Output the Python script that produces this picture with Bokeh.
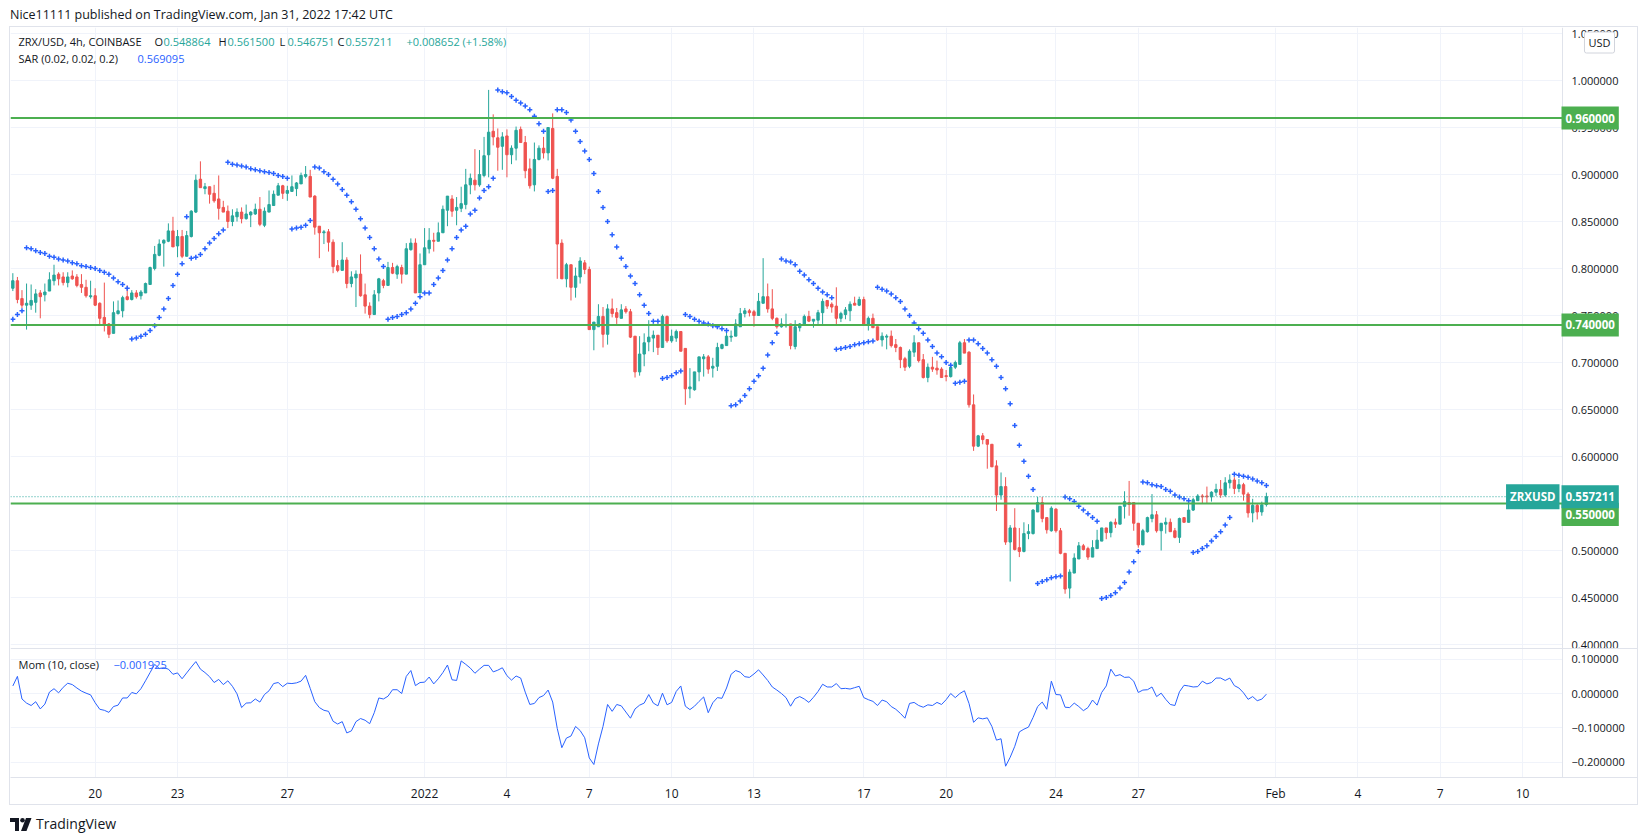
import numpy as np
import pandas as pd
from bokeh.plotting import figure
from bokeh.models import Range1d, FixedTicker, Span, Label, ColumnDataSource, Div, BoxAnnotation
from bokeh.layouts import column
from bokeh.embed import file_html
from bokeh.resources import INLINE

# ---------------- data (ZRX/USD 4h, COINBASE) ----------------
first_bar = "2021-12-17 00:00"

opens = [
    .779, .787, .768, .761, .761, .764, .774, .772, .776, .787,
    .794, .791, .785, .792, .791, .783, .780, .770, .771, .763,
    .748, .741, .731, .752, .755, .770, .767, .774, .771, .774,
    .783, .800, .814, .827, .829, .840, .824, .834, .813, .834,
    .860, .895, .885, .887, .880, .874, .865, .861, .850, .855,
    .860, .853, .857, .858, .863, .846, .860, .867, .878, .888,
    .880, .882, .885, .890, .898, .898, .877, .845, .838, .839,
    .828, .803, .798, .809, .784, .790, .794, .772, .760, .751,
    .774, .787, .782, .801, .794, .801, .794, .820, .827, .774,
    .804, .821, .830, .829, .838, .862, .874, .862, .864, .868,
    .889, .894, .889, .899, .921, .946, .939, .930, .941, .921,
    .928, .948, .934, .906, .889, .916, .928, .923, .949, .898,
    .827, .789, .804, .780, .791, .806, .799, .735, .738, .749,
    .730, .757, .753, .747, .757, .754, .728, .690, .709, .722,
    .726, .729, .716, .749, .723, .726, .733, .715, .672, .671,
    .690, .704, .706, .694, .696, .715, .718, .727, .728, .738,
    .752, .755, .754, .750, .763, .770, .757, .747, .738, .739,
    .741, .717, .737, .741, .749, .744, .745, .753, .766, .762,
    .760, .747, .751, .755, .763, .761, .767, .741, .747, .738,
    .724, .727, .728, .719, .716, .704, .696, .711, .721, .703,
    .684, .695, .694, .693, .686, .685, .695, .698, .721, .711,
    .655, .611, .622, .618, .613, .590, .559, .568, .509, .524,
    .503, .499, .518, .518, .541, .551, .535, .521, .544, .521,
    .497, .460, .476, .491, .505, .502, .493, .502, .510, .524,
    .519, .530, .528, .547, .551, .551, .529, .506, .520, .534,
    .538, .521, .528, .530, .521, .514, .535, .530, .543, .553,
    .558, .558, .557, .562, .565, .559, .572, .575, .566, .570,
    .560, .540, .548, .541, .548864,
]
highs = [
    .795, .791, .777, .784, .783, .778, .777, .784, .796, .804,
    .796, .796, .796, .798, .794, .794, .788, .787, .779, .764,
    .785, .742, .765, .766, .771, .782, .777, .777, .777, .785,
    .802, .824, .831, .831, .848, .855, .841, .841, .840, .862,
    .900, .914, .891, .887, .889, .899, .872, .867, .863, .864,
    .865, .868, .861, .869, .876, .865, .883, .883, .891, .889,
    .888, .899, .892, .902, .909, .905, .878, .845, .841, .842,
    .831, .809, .828, .812, .797, .798, .815, .784, .764, .777,
    .790, .789, .807, .806, .804, .804, .827, .832, .832, .816,
    .843, .843, .838, .849, .867, .877, .878, .876, .887, .906,
    .901, .927, .926, .940, .990, .964, .949, .945, .948, .931,
    .951, .951, .941, .917, .934, .931, .940, .950, .965, .906,
    .831, .806, .804, .801, .812, .809, .802, .743, .762, .759,
    .762, .768, .758, .762, .760, .757, .728, .728, .731, .745,
    .734, .729, .751, .750, .735, .735, .733, .715, .694, .690,
    .706, .709, .708, .705, .721, .720, .732, .734, .746, .758,
    .758, .757, .756, .774, .811, .784, .778, .748, .747, .752,
    .741, .745, .742, .751, .755, .746, .756, .768, .766, .764,
    .780, .754, .759, .765, .770, .770, .770, .749, .752, .738,
    .732, .730, .734, .725, .717, .706, .714, .729, .721, .709,
    .699, .706, .702, .695, .692, .697, .702, .723, .725, .712,
    .666, .623, .625, .618, .613, .596, .583, .578, .527, .545,
    .524, .530, .528, .544, .557, .557, .535, .547, .545, .524,
    .497, .480, .497, .509, .507, .504, .511, .522, .524, .524,
    .531, .534, .547, .563, .574, .551, .529, .523, .536, .560,
    .542, .529, .535, .534, .524, .535, .535, .555, .556, .560,
    .560, .568, .563, .571, .575, .578, .581, .578, .576, .572,
    .562, .555, .550, .552, .5615,
]
lows = [
    .776, .763, .758, .735, .756, .753, .747, .765, .776, .782,
    .782, .782, .780, .788, .780, .774, .769, .768, .760, .740,
    .733, .726, .731, .751, .748, .766, .766, .768, .767, .774,
    .783, .798, .813, .802, .828, .823, .812, .811, .813, .833,
    .859, .886, .879, .869, .870, .852, .860, .843, .845, .850,
    .848, .852, .844, .857, .845, .844, .860, .867, .878, .874,
    .872, .882, .877, .890, .896, .876, .836, .811, .826, .818,
    .795, .796, .798, .779, .780, .759, .770, .752, .747, .751,
    .765, .779, .782, .794, .789, .784, .794, .819, .774, .774,
    .804, .816, .818, .829, .838, .845, .855, .846, .860, .863,
    .879, .883, .887, .897, .897, .931, .904, .905, .897, .911,
    .915, .934, .896, .885, .882, .915, .917, .915, .895, .789,
    .789, .780, .766, .769, .784, .794, .735, .713, .738, .716,
    .719, .748, .741, .747, .752, .726, .684, .686, .696, .712,
    .711, .708, .716, .721, .721, .722, .712, .655, .662, .670,
    .680, .685, .688, .684, .691, .714, .718, .722, .728, .738,
    .748, .749, .738, .750, .763, .753, .745, .736, .737, .737,
    .714, .714, .733, .741, .743, .737, .741, .741, .757, .753,
    .740, .743, .746, .744, .761, .760, .741, .734, .737, .723,
    .717, .714, .716, .711, .694, .691, .694, .706, .700, .683,
    .679, .690, .687, .684, .680, .684, .693, .698, .710, .652,
    .606, .610, .613, .587, .589, .542, .554, .506, .467, .500,
    .493, .498, .512, .517, .541, .530, .518, .520, .519, .496,
    .454, .449, .476, .491, .500, .490, .493, .502, .510, .512,
    .514, .524, .528, .534, .537, .521, .503, .506, .519, .530,
    .519, .500, .518, .520, .513, .508, .530, .530, .542, .553,
    .550, .550, .552, .558, .556, .557, .566, .560, .562, .553,
    .535, .530, .533, .537, .546751,
]
closes = [
    .787, .767, .761, .763, .766, .773, .770, .775, .788, .793,
    .789, .785, .791, .789, .782, .780, .771, .771, .761, .747,
    .740, .730, .753, .755, .769, .767, .774, .770, .775, .784,
    .801, .815, .826, .830, .840, .823, .834, .813, .835, .861,
    .894, .886, .887, .879, .872, .864, .860, .850, .856, .860,
    .853, .858, .860, .863, .847, .861, .868, .879, .888, .880,
    .883, .887, .891, .899, .900, .876, .844, .838, .839, .828,
    .802, .798, .809, .784, .791, .794, .771, .760, .751, .772,
    .789, .782, .801, .795, .802, .794, .821, .827, .774, .804,
    .822, .830, .829, .838, .863, .877, .861, .865, .869, .889,
    .896, .889, .900, .920, .945, .940, .929, .940, .921, .928,
    .947, .934, .904, .888, .916, .928, .923, .950, .896, .826,
    .789, .804, .780, .792, .808, .799, .735, .743, .749, .730,
    .757, .752, .748, .756, .754, .727, .690, .709, .721, .727,
    .729, .716, .749, .723, .728, .733, .712, .672, .674, .690,
    .706, .706, .693, .696, .716, .719, .728, .728, .741, .752,
    .755, .753, .750, .765, .770, .757, .747, .738, .741, .740,
    .718, .738, .741, .749, .744, .746, .753, .765, .760, .759,
    .747, .752, .756, .762, .761, .767, .741, .747, .737, .724,
    .728, .728, .718, .716, .703, .695, .712, .721, .702, .684,
    .695, .693, .692, .684, .685, .695, .700, .721, .710, .655,
    .611, .622, .618, .613, .589, .559, .568, .509, .524, .501,
    .499, .518, .520, .543, .551, .534, .522, .545, .521, .497,
    .459, .477, .492, .505, .501, .493, .503, .511, .524, .519,
    .530, .528, .547, .552, .549, .529, .506, .521, .535, .538,
    .521, .529, .530, .520, .514, .534, .530, .543, .554, .558,
    .557, .557, .562, .565, .559136, .572, .575, .566, .570, .560,
    .540, .548, .541, .548559, .557211,
]
# Parabolic SAR (0.02, 0.02, 0.2) as plotted
sar = [
    .746, .751, .755, .822, .821, .819, .817, .816, .813, .812,
    .810, .809, .808, .806, .805, .803, .802, .801, .800, .798,
    .796, .794, .790, .786, .783, .779, .725, .726, .728, .730,
    .734, .739, .748, .757, .768, .782, .794, .805, .855, .811,
    .812, .815, .821, .827, .832, .837, .841, .913, .911, .910,
    .909, .908, .906, .905, .904, .903, .902, .901, .899, .898,
    .896, .842, .843, .844, .846, .851, .908, .907, .903, .900,
    .895, .890, .884, .878, .871, .863, .853, .843, .833, .821,
    .810, .802, .746, .748, .749, .751, .753, .757, .763, .770,
    .774, .774, .783, .790, .798, .809, .821, .833, .841, .845,
    .858, .862, .875, .883, .887, .896, .990, .988, .987, .983,
    .979, .976, .973, .969, .962, .954, .946, .882, .883, .969,
    .969, .966, .958, .946, .935, .925, .916, .901, .882, .865,
    .850, .836, .823, .811, .802, .792, .784, .772, .761, .752,
    .744, .744, .683, .684, .686, .689, .691, .751, .749, .746,
    .744, .742, .741, .739, .738, .736, .734, .654, .655, .659,
    .665, .672, .680, .686, .694, .708, .721, .731, .810, .808,
    .807, .804, .797, .793, .788, .784, .779, .775, .772, .769,
    .714, .715, .716, .717, .719, .720, .721, .722, .723, .780,
    .778, .776, .773, .769, .765, .757, .750, .742, .736, .731,
    .724, .717, .710, .706, .700, .697, .678, .679, .680, .724,
    .724, .720, .715, .710, .703, .696, .684, .672, .656, .633,
    .612, .595, .579, .565, .465, .467, .469, .471, .472, .473,
    .557, .555, .552, .547, .543, .539, .535, .531, .449, .450,
    .452, .455, .460, .466, .477, .488, .499, .573, .572, .570,
    .569, .568, .565, .563, .559, .557, .555, .553, .498, .499,
    .502, .505, .510, .515, .520, .527, .535, .581, .580, .579,
    .578, .576, .574, .572, .569095,
]
# Mom(10, close) values of the first 10 bars (their 10-bars-earlier closes are off-screen)
mom_head = [0.022, 0.050, -0.016, -0.028, -0.035, -0.024, -0.045, -0.031, 0.004, 0.014]

price_ticks = [0.40, 0.45, 0.50, 0.55, 0.60, 0.65, 0.70, 0.75, 0.80, 0.85, 0.90, 0.95, 1.00, 1.05]
price_tick_labels = ["0.400000", "0.450000", "0.500000", "0.550000", "0.600000", "0.650000", "0.700000",
                     "0.750000", "0.800000", "0.850000", "0.900000", "0.950000", "1.000000", "1.050000"]
mom_ticks = [0.1, 0.0, -0.1, -0.2]
mom_tick_labels = ["0.100000", "0.000000", "\u22120.100000", "\u22120.200000"]
date_ticks = ["2021-12-20", "2021-12-23", "2021-12-27", "2022-01-01", "2022-01-04", "2022-01-07",
              "2022-01-10", "2022-01-13", "2022-01-17", "2022-01-20", "2022-01-24", "2022-01-27",
              "2022-02-01", "2022-02-04", "2022-02-07", "2022-02-10"]
date_tick_labels = ["20", "23", "27", "2022", "4", "7", "10", "13", "17", "20", "24", "27",
                    "Feb", "4", "7", "10"]
levels = [0.96, 0.74, 0.55]
level_labels = ["0.960000", "0.740000", "0.550000"]
symbol = "ZRXUSD"
title_text = "ZRX/USD, 4h, COINBASE"
sar_title = "SAR (0.02, 0.02, 0.2)"
mom_title = "Mom (10, close)"
published = "Nice11111 published on TradingView.com, Jan 31, 2022 17:42 UTC"

# ---------------- styles ----------------
UP, DOWN = "#26a69a", "#ef5350"
SAR_C, MOM_C = "#2962ff", "#2962ff"
LEVEL_C = "#4caf50"
GRID_C, BORDER_C = "#f0f3fa", "#e0e3eb"
TXT = "#131722"
FONT = "Open Sans"

# ---------------- geometry (page pixels) ----------------
FRAME_L, FRAME_R, FRAME_T, FRAME_B = 10, 1637, 27, 777
AXIS_X = 1562          # left edge of the price scale
PANE_SPLIT = 648       # border between price pane and momentum pane
PX_PER_BAR = 4.575
X_START = -18.51
PX_PER_PRICE = 940.0
PRICE_TOP = 1.056383
PX_PER_MOM = 343.0
MOM_ZERO_Y = 693


def px_x(px):
    return X_START + (px - FRAME_L) / PX_PER_BAR


def px_p(py):
    return PRICE_TOP - (py - FRAME_T) / PX_PER_PRICE


X_END = px_x(FRAME_R)
X_AXIS = px_x(AXIS_X)
P0, P1 = px_p(FRAME_B), PRICE_TOP
M0, M1 = (MOM_ZERO_Y - FRAME_B) / PX_PER_MOM, (MOM_ZERO_Y - FRAME_T) / PX_PER_MOM


def mom_to_price_axis(m):
    return P0 + (m - M0) * (P1 - P0) / (M1 - M0)


# ---------------- derived ----------------
bar = pd.Timedelta(hours=4)
origin = pd.Timestamp("2021-12-20")
times = pd.date_range(first_bar, periods=len(closes), freq="4h")
xk = ((times - origin) / bar).to_numpy(dtype=float)
tick_x = [float(v) for v in ((pd.to_datetime(date_ticks) - origin) / bar).to_numpy(dtype=float)]

o, h, l, c = (np.array(a, dtype=float) for a in (opens, highs, lows, closes))
colors = np.where(c >= o, UP, DOWN)
src = ColumnDataSource(dict(x=xk, high=h, low=l, top=np.maximum(o, c), bottom=np.minimum(o, c),
                            color=colors, sar=np.array(sar)))
mom = np.concatenate([np.array(mom_head), c[10:] - c[:-10]])


def fmt(v):
    return f"{v:.6f}".replace("-", "\u2212")


# ---------------- figure ----------------
p = figure(frame_width=FRAME_R - FRAME_L, frame_height=FRAME_B - FRAME_T,
           x_range=Range1d(X_START, X_END), y_range=Range1d(P0, P1),
           extra_y_ranges={"mom": Range1d(M0, M1)},
           output_backend="svg", toolbar_location=None,
           min_border_left=0, min_border_right=0, min_border_top=0, min_border_bottom=26,
           y_axis_location="right", x_axis_location="below")
p.outline_line_color = None
p.background_fill_color = "white"
p.border_fill_color = "white"

axis_ticks = price_ticks + [mom_to_price_axis(m) for m in mom_ticks]
axis_labels = price_tick_labels + mom_tick_labels
ya = p.yaxis[0]
ya.ticker = FixedTicker(ticks=axis_ticks)
ya.major_label_overrides = dict(zip(axis_ticks, axis_labels))
ya.major_tick_line_color = None
ya.minor_tick_line_color = None
ya.major_tick_out = 0
ya.major_tick_in = 0
ya.axis_line_color = None
ya.major_label_standoff = -(FRAME_R - AXIS_X - 9)
ya.major_label_text_font = FONT
ya.major_label_text_font_size = "11px"
ya.major_label_text_color = TXT
p.ygrid.ticker = FixedTicker(ticks=axis_ticks)
p.ygrid.grid_line_color = GRID_C

xa = p.xaxis[0]
xa.ticker = FixedTicker(ticks=tick_x)
xa.major_label_overrides = dict(zip(tick_x, date_tick_labels))
xa.major_tick_line_color = None
xa.minor_tick_line_color = None
xa.major_tick_out = 0
xa.axis_line_color = BORDER_C
xa.major_label_standoff = 7
xa.major_label_text_font = FONT
xa.major_label_text_font_size = "12px"
xa.major_label_text_color = TXT
p.xgrid.ticker = FixedTicker(ticks=tick_x)
p.xgrid.grid_line_color = GRID_C

# blank the price-scale strip (grid lines stop at the scale)
p.add_layout(BoxAnnotation(left=X_AXIS, fill_color="white", fill_alpha=1.0, line_color=None,
                           level="underlay"))
p.add_layout(Span(location=X_AXIS, dimension="height", line_color=BORDER_C, line_width=1))
p.add_layout(Span(location=px_p(PANE_SPLIT), dimension="width", line_color=BORDER_C, line_width=1))

# candles
p.segment(x0="x", y0="low", x1="x", y1="high", line_color="color", line_width=1, source=src)
p.vbar(x="x", width=0.52, top="top", bottom="bottom", fill_color="color", line_color="color",
       line_width=1, source=src)
# SAR
p.scatter(x="x", y="sar", marker="cross", size=5, line_width=1.5, line_color=SAR_C, source=src)
# horizontal levels and last-price line
p.segment(x0=[X_START] * len(levels), y0=levels, x1=[X_AXIS] * len(levels), y1=levels,
          line_color=LEVEL_C, line_width=2)
p.segment(x0=[X_START], y0=[closes[-1]], x1=[px_x(1507)], y1=[closes[-1]], line_color=UP,
          line_width=1, line_dash="1 2")
# momentum
p.line(xk, mom, line_color=MOM_C, line_width=1, y_range_name="mom")


def tag(x, y, text, bg, color="white", align="left", bold=True, border=None, pad=(4, 7),
        size="11.5px"):
    p.add_layout(Label(x=x, y=y, text=text, text_align=align, text_baseline="middle",
                       text_font=FONT, text_font_size=size, text_color=color,
                       text_font_style="bold" if bold else "normal",
                       background_fill_color=bg, padding=pad,
                       border_line_color=border, border_radius=2 if border else 0))


TAG_X = px_x(AXIS_X - 1)
tag(TAG_X, levels[0], level_labels[0], LEVEL_C)
tag(TAG_X, levels[1], level_labels[1], LEVEL_C)
tag(TAG_X, px_p(514), level_labels[2], LEVEL_C)
tag(TAG_X, closes[-1], fmt(closes[-1]), UP)
tag(px_x(1559), closes[-1], symbol, UP, align="right", pad=(4, 5))
tag(px_x(1599), px_p(42), "USD", "white", color=TXT, align="center", bold=False,
    border="#d1d4dc", pad=(4, 3), size="11px")


def text(x, y, s, color=TXT, size="11px"):
    p.add_layout(Label(x=x, y=y, text=s, text_align="left", text_baseline="middle",
                       text_font=FONT, text_font_size=size, text_color=color))


chg = closes[-1] - closes[-2]
row1 = [(18, title_text, TXT), (154, "O", TXT), (163, fmt(opens[-1]), UP), (218, "H", TXT),
        (227, fmt(highs[-1]), UP), (279, "L", TXT), (287, fmt(lows[-1]), UP), (337, "C", TXT),
        (345, fmt(closes[-1]), UP), (406, f"+{chg:.6f} (+{chg / closes[-2] * 100:.2f}%)", UP)]
for px, s, col in row1:
    text(px_x(px), px_p(41), s, col)
text(px_x(18), px_p(58), sar_title, TXT)
text(px_x(137), px_p(58), fmt(sar[-1]), SAR_C)
text(px_x(18), px_p(664), mom_title, TXT)
text(px_x(113), px_p(664), fmt(mom[-1]), MOM_C)

# ---------------- page ----------------
header = Div(text=f'<div style="font-family:\'{FONT}\';font-size:12.5px;color:{TXT};'
                  f'padding:6px 0 0 10px;white-space:nowrap;">{published}</div>',
             width=1647, height=27, margin=(0, 0, 0, 0))
chart = column(p, margin=(0, 0, 0, 10), spacing=0,
               styles={"outline": f"1px solid {BORDER_C}"})
logo = ('<svg width="22" height="13" viewBox="0 0 22 13" style="vertical-align:middle">'
        '<path d="M0 0H9V13H5V4H0Z" fill="#131722"/>'
        '<circle cx="12.5" cy="2.3" r="2.3" fill="#131722"/>'
        '<path d="M16 0H21.5L16.5 13H11Z" fill="#131722"/></svg>')
footer = Div(text=f'<div style="padding:9px 0 0 10px;font-family:\'{FONT}\';font-size:14px;'
                  f'color:{TXT};white-space:nowrap;">{logo}<span style="vertical-align:middle;'
                  f'margin-left:4px">TradingView</span></div>',
             width=1647, height=36, margin=(0, 0, 0, 0))
page = column(header, chart, footer, spacing=0)

open("out.html", "w").write(file_html(page, INLINE))
